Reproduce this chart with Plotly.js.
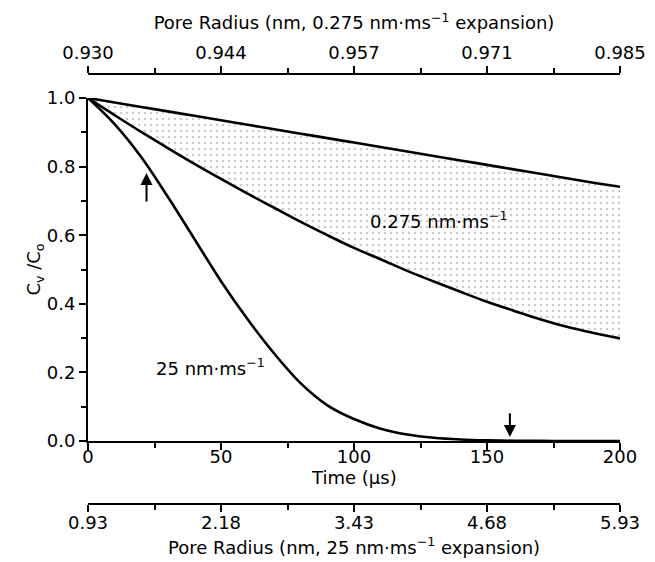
<!DOCTYPE html>
<html>
<head>
<meta charset="utf-8">
<script src="https://cdn.plot.ly/plotly-3.0.1.min.js"></script>
<style>html,body{margin:0;padding:0;background:#fff;}#chart{width:655px;height:562px;}</style>
</head>
<body>
<div id="chart"></div>
<script>
// ---- data ----
const time = [0,10,20,30,40,50,60,70,80,90,100,110,120,130,140,150,160,170,180,190,200];
// upper bound of shaded band
const upperBound = [1.0,0.987,0.974,0.961,0.948,0.935,0.922,0.909,0.896,0.883,0.870,0.857,0.844,0.831,0.818,0.805,0.792,0.779,0.766,0.753,0.741];
// 0.275 nm/ms expansion
const slowExpansion = [1.0,0.950,0.901,0.854,0.808,0.764,0.721,0.680,0.639,0.600,0.563,0.530,0.496,0.465,0.435,0.406,0.380,0.355,0.333,0.315,0.299];
// 25 nm/ms expansion
const fastExpansion = [1.0,0.924,0.828,0.712,0.589,0.466,0.355,0.255,0.168,0.104,0.064,0.036,0.019,0.0095,0.0045,0.002,0.0008,0.0003,0.0001,0.0,0.0];

const timeTicks = [0,50,100,150,200];
const timeMinorTicks = [25,75,125,175];
const topRadiusLabels = ['0.930','0.944','0.957','0.971','0.985'];
const bottomRadiusLabels = ['0.93','2.18','3.43','4.68','5.93'];
const yTicks = [0,0.2,0.4,0.6,0.8,1.0];
const yMinorTicks = [0.1,0.3,0.5,0.7,0.9];

const FONT = 'DejaVu Sans, Arial, sans-serif';
const FS = 18;
const lineStyle = {color:'#000', width:2.6, shape:'spline', smoothing:1};

const traces = [
  {x: time, y: slowExpansion, mode:'lines', line: lineStyle, hoverinfo:'skip', showlegend:false},
  {x: time, y: upperBound, mode:'lines', line: lineStyle, fill:'tonexty',
   fillcolor:'rgba(0,0,0,0)',
   fillpattern:{shape:'.', fgcolor:'#bdbdbd', fgopacity:0.8, size:6, solidity:0.12, fillmode:'overlay'},
   hoverinfo:'skip', showlegend:false},
  {x: time, y: fastExpansion, mode:'lines', line: lineStyle, hoverinfo:'skip', showlegend:false},
  // registering the two pore-radius axes
  {x: [], y: [], xaxis:'x2', yaxis:'y', mode:'lines', hoverinfo:'skip', showlegend:false},
  {x: [], y: [], xaxis:'x3', yaxis:'y', mode:'lines', hoverinfo:'skip', showlegend:false}
];

const minorTicks = {tickmode:'array', tickvals:timeMinorTicks, ticks:'outside', ticklen:5, tickwidth:2, tickcolor:'#000'};
const axisCommon = {
  showline:true, linecolor:'#000', linewidth:2,
  ticks:'outside', ticklen:7, tickwidth:2, tickcolor:'#000',
  showgrid:false, zeroline:false,
  tickfont:{family:FONT, size:FS, color:'#000'}
};

const layout = {
  width:655, height:562,
  margin:{l:88, r:35, t:74, b:58, autoexpand:false},
  paper_bgcolor:'#fff', plot_bgcolor:'rgba(0,0,0,0)',
  font:{family:FONT, size:FS, color:'#000'},
  showlegend:false,
  xaxis: Object.assign({}, axisCommon, {
    range:[0,200], anchor:'y', tickmode:'array', tickvals:timeTicks,
    ticklabelstandoff:-9, minor:minorTicks
  }),
  xaxis2: Object.assign({}, axisCommon, {
    range:[0,200], overlaying:'x', anchor:'free', position:1, side:'top',
    tickmode:'array', tickvals:timeTicks, ticktext:topRadiusLabels, minor:minorTicks,
    title:{text:'Pore Radius (nm, 0.275 nm·ms<sup>−1</sup> expansion)', font:{family:FONT, size:FS}, standoff:6}
  }),
  xaxis3: Object.assign({}, axisCommon, {
    range:[0,200], overlaying:'x', anchor:'free', position:0, side:'bottom',
    tickmode:'array', tickvals:timeTicks, ticktext:bottomRadiusLabels, minor:minorTicks,
    ticklabelstandoff:-5
  }),
  yaxis: Object.assign({}, axisCommon, {
    range:[0,1], domain:[0.1465,0.9442], anchor:'x',
    tickmode:'array', tickvals:yTicks, tickformat:'.1f',
    minor:{tickmode:'array', tickvals:yMinorTicks, ticks:'outside', ticklen:5, tickwidth:2, tickcolor:'#000'},
    title:{text:'C<sub>v</sub> /C<sub>o</sub>', font:{family:FONT, size:FS}, standoff:0}
  }),
  annotations:[
    {x:0.5, y:0.0605, xref:'paper', yref:'paper', text:'Time (μs)', showarrow:false,
     xanchor:'center', yanchor:'middle', font:{family:FONT, size:FS, color:'#000'}},
    {x:0.5, y:-0.0977, xref:'paper', yref:'paper', text:'Pore Radius (nm, 25 nm·ms<sup>−1</sup> expansion)', showarrow:false,
     xanchor:'center', yanchor:'middle', font:{family:FONT, size:FS, color:'#000'}},
    {x:131.6, y:0.644, xref:'x', yref:'y', text:'0.275 nm·ms<sup>−1</sup>', showarrow:false,
     font:{family:FONT, size:FS, color:'#000'}},
    {x:45.9, y:0.216, xref:'x', yref:'y', text:'25 nm·ms<sup>−1</sup>', showarrow:false,
     font:{family:FONT, size:FS, color:'#000'}},
    {x:22, y:0.781, xref:'x', yref:'y', ax:22, ay:0.694, axref:'x', ayref:'y', text:'',
     showarrow:true, arrowhead:2, arrowsize:1.2, arrowwidth:2, arrowcolor:'#000'},
    {x:158.6, y:0.012, xref:'x', yref:'y', ax:158.6, ay:0.085, axref:'x', ayref:'y', text:'',
     showarrow:true, arrowhead:2, arrowsize:1.2, arrowwidth:2, arrowcolor:'#000'}
  ]
};

Plotly.newPlot('chart', traces, layout, {displayModeBar:false, staticPlot:true});
</script>
</body>
</html>
